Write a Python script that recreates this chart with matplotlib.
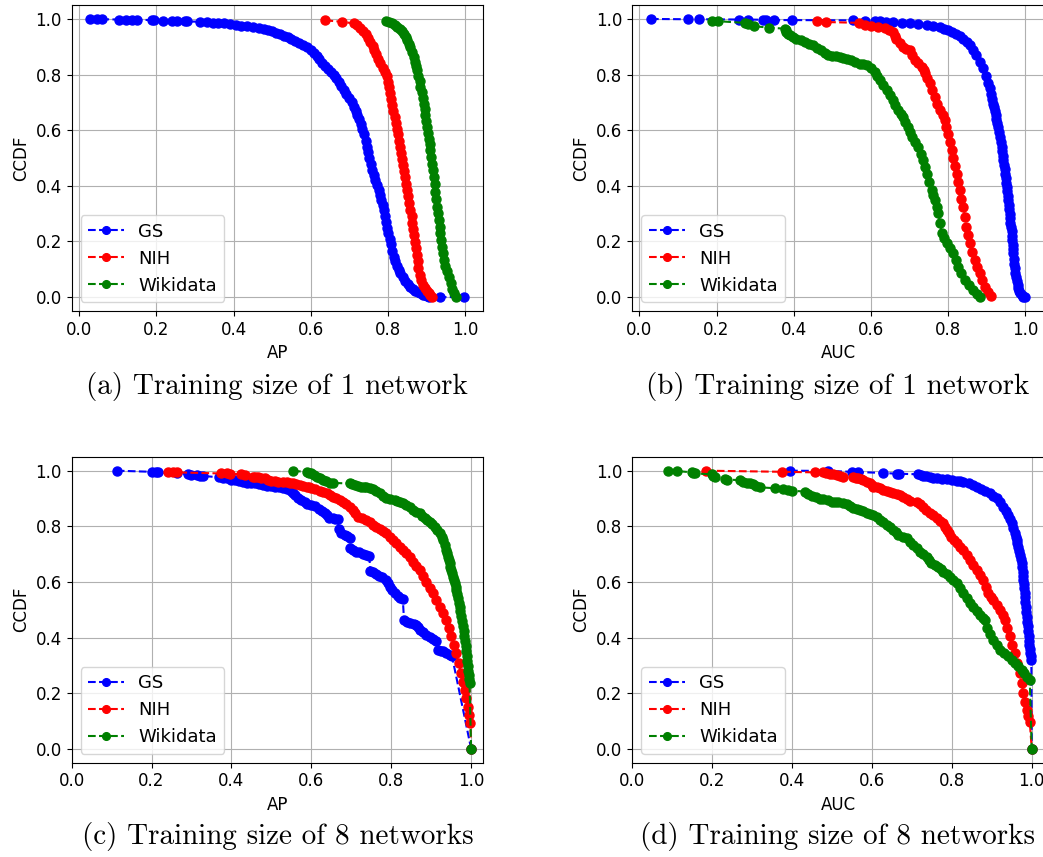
import matplotlib as mpl
mpl.use('Agg')
import matplotlib.pyplot as plt

# CCDF curves, (score, ccdf) pairs for each dataset

# (a) AP, training size 1
ap1_gs = [(0.029,1.0),(0.046,0.999),(0.059,0.999),(0.102,0.998),(0.122,0.998),(0.137,0.997),(0.150,0.997),
          (0.188,0.996),(0.194,0.995),(0.216,0.994),(0.240,0.993),(0.253,0.993),(0.275,0.992),(0.279,0.991),
          (0.314,0.990),(0.331,0.989),(0.348,0.987),(0.36,0.986),(0.375,0.984),(0.39,0.981),(0.405,0.978),
          (0.42,0.976),(0.435,0.974),(0.45,0.971),(0.465,0.968),(0.478,0.965),(0.49,0.961),(0.50,0.956),
          (0.51,0.951),(0.52,0.946),(0.53,0.940),(0.54,0.934),(0.55,0.928),(0.56,0.921),(0.57,0.915),
          (0.58,0.907),(0.59,0.898),(0.60,0.887),(0.608,0.876),(0.615,0.866),(0.622,0.855),(0.63,0.843),
          (0.638,0.831),(0.645,0.820),(0.652,0.810),(0.66,0.800),(0.666,0.787),(0.672,0.775),(0.678,0.760),
          (0.685,0.744),(0.692,0.730),(0.70,0.715),(0.706,0.700),(0.711,0.684),(0.716,0.668),(0.72,0.655),
          (0.725,0.640),(0.729,0.624),(0.733,0.605),(0.738,0.585),(0.742,0.563),(0.746,0.540),(0.749,0.520),
          (0.752,0.500),(0.756,0.478),(0.759,0.456),(0.763,0.438),(0.767,0.420),(0.772,0.402),(0.776,0.384),
          (0.78,0.367),(0.783,0.350),(0.786,0.332),(0.789,0.313),(0.792,0.292),(0.795,0.270),(0.798,0.250),
          (0.80,0.229),(0.804,0.210),(0.807,0.190),(0.811,0.167),(0.815,0.145),(0.819,0.128),(0.823,0.112),
          (0.828,0.098),(0.832,0.085),(0.838,0.071),(0.845,0.058),(0.851,0.047),(0.858,0.037),(0.864,0.029),
          (0.87,0.022),(0.877,0.017),(0.884,0.013),(0.89,0.009),(0.895,0.006),(0.90,0.003),(0.906,0.001),
          (0.936,0.0),(0.998,0.0)]
ap1_nih = [(0.638,0.995),(0.68,0.990),(0.711,0.984),(0.72,0.978),(0.728,0.968),(0.735,0.958),(0.742,0.945),
           (0.748,0.932),(0.754,0.918),(0.76,0.903),(0.765,0.888),(0.77,0.873),(0.775,0.857),(0.78,0.840),
           (0.786,0.822),(0.792,0.81),(0.797,0.795),(0.80,0.775),(0.803,0.755),(0.806,0.735),(0.808,0.712),
           (0.811,0.69),(0.814,0.668),(0.817,0.648),(0.82,0.627),(0.823,0.606),(0.826,0.585),(0.828,0.563),
           (0.831,0.540),(0.834,0.518),(0.837,0.497),(0.84,0.476),(0.842,0.455),(0.845,0.432),(0.847,0.408),
           (0.85,0.385),(0.852,0.362),(0.855,0.338),(0.858,0.313),(0.861,0.29),(0.863,0.268),(0.866,0.245),
           (0.868,0.222),(0.87,0.199),(0.872,0.176),(0.875,0.152),(0.877,0.128),(0.879,0.104),(0.882,0.08),
           (0.886,0.06),(0.89,0.045),(0.895,0.033),(0.90,0.022),(0.905,0.013),(0.91,0.006),(0.915,0.0)]
ap1_wiki = [(0.796,0.994),(0.803,0.99),(0.811,0.986),(0.818,0.978),(0.824,0.971),(0.83,0.963),(0.836,0.955),
            (0.841,0.947),(0.846,0.935),(0.85,0.923),(0.854,0.911),(0.858,0.898),(0.862,0.882),(0.867,0.863),
            (0.87,0.847),(0.873,0.832),(0.876,0.816),(0.879,0.796),(0.882,0.776),(0.884,0.756),(0.887,0.736),
            (0.89,0.716),(0.893,0.696),(0.895,0.675),(0.897,0.654),(0.899,0.633),(0.901,0.612),(0.903,0.591),
            (0.906,0.57),(0.908,0.549),(0.91,0.528),(0.912,0.504),(0.914,0.48),(0.917,0.456),(0.919,0.432),
            (0.921,0.405),(0.923,0.378),(0.925,0.352),(0.927,0.325),(0.929,0.301),(0.932,0.277),(0.934,0.253),
            (0.936,0.229),(0.938,0.205),(0.941,0.181),(0.943,0.157),(0.945,0.133),(0.949,0.113),(0.953,0.093),
            (0.958,0.073),(0.962,0.049),(0.966,0.028),(0.97,0.013),(0.975,0.0)]

# (b) AUC, training size 1
auc1_gs = [(0.03,1.0),(0.127,0.999),(0.154,0.999),(0.257,0.998),(0.281,0.998),(0.32,0.997),(0.329,0.997),
           (0.348,0.996),(0.396,0.996),(0.554,0.995),(0.584,0.994),(0.61,0.993),(0.623,0.991),(0.64,0.989),
           (0.658,0.988),(0.68,0.986),(0.701,0.984),(0.722,0.981),(0.745,0.978),(0.762,0.974),(0.779,0.970),
           (0.79,0.965),(0.80,0.960),(0.811,0.953),(0.822,0.945),(0.831,0.937),(0.84,0.929),(0.849,0.918),
           (0.857,0.905),(0.865,0.888),(0.874,0.870),(0.883,0.846),(0.892,0.822),(0.898,0.796),(0.905,0.768),
           (0.908,0.75),(0.911,0.732),(0.915,0.714),(0.918,0.696),(0.920,0.682),(0.922,0.668),(0.924,0.654),
           (0.926,0.640),(0.928,0.626),(0.931,0.612),(0.933,0.594),(0.935,0.576),(0.937,0.558),(0.939,0.540),
           (0.941,0.524),(0.942,0.508),(0.944,0.492),(0.945,0.476),(0.947,0.46),(0.948,0.444),(0.95,0.428),
           (0.951,0.412),(0.953,0.396),(0.954,0.38),(0.956,0.364),(0.957,0.348),(0.958,0.332),(0.959,0.316),
           (0.96,0.3),(0.961,0.284),(0.962,0.268),(0.963,0.253),(0.965,0.237),(0.966,0.221),(0.967,0.205),
           (0.968,0.189),(0.969,0.173),(0.970,0.157),(0.971,0.138),(0.972,0.12),(0.973,0.104),(0.974,0.088),
           (0.976,0.072),(0.978,0.058),(0.981,0.044),(0.983,0.032),(0.985,0.022),(0.987,0.015),(0.991,0.007),
           (0.995,0.002),(1.0,0.0)]
auc1_nih = [(0.461,0.994),(0.483,0.989),(0.57,0.986),(0.585,0.977),(0.60,0.975),(0.619,0.971),(0.636,0.966),
            (0.648,0.96),(0.658,0.952),(0.662,0.94),(0.665,0.929),(0.675,0.915),(0.684,0.900),(0.692,0.893),
            (0.701,0.887),(0.708,0.87),(0.714,0.852),(0.722,0.84),(0.732,0.828),(0.737,0.816),(0.74,0.804),
            (0.747,0.786),(0.753,0.768),(0.76,0.744),(0.766,0.720),(0.773,0.696),(0.779,0.672),(0.786,0.654),
            (0.792,0.636),(0.796,0.612),(0.80,0.588),(0.805,0.558),(0.81,0.528),(0.814,0.500),(0.818,0.472),
            (0.823,0.444),(0.827,0.414),(0.831,0.384),(0.835,0.354),(0.84,0.325),(0.844,0.289),(0.848,0.253),
            (0.852,0.223),(0.857,0.193),(0.863,0.163),(0.87,0.133),(0.876,0.109),(0.883,0.085),(0.889,0.061),
            (0.896,0.037),(0.904,0.02),(0.913,0.004)]
auc1_wiki = [(0.189,0.994),(0.203,0.992),(0.273,0.986),(0.281,0.981),(0.297,0.974),(0.335,0.969),(0.377,0.965),
             (0.379,0.959),(0.381,0.953),(0.385,0.947),(0.39,0.941),(0.398,0.935),(0.407,0.929),(0.418,0.923),
             (0.429,0.917),(0.44,0.911),(0.45,0.905),(0.461,0.896),(0.472,0.887),(0.48,0.878),(0.489,0.869),
             (0.50,0.868),(0.511,0.866),(0.52,0.864),(0.528,0.861),(0.539,0.856),(0.55,0.851),(0.56,0.845),
             (0.571,0.839),(0.58,0.837),(0.589,0.834),(0.60,0.822),(0.61,0.81),(0.617,0.795),(0.623,0.78),
             (0.632,0.762),(0.641,0.744),(0.65,0.726),(0.658,0.708),(0.664,0.69),(0.671,0.672),(0.678,0.66),
             (0.684,0.648),(0.69,0.630),(0.697,0.612),(0.702,0.594),(0.706,0.576),(0.714,0.558),(0.723,0.54),
             (0.73,0.516),(0.736,0.492),(0.741,0.468),(0.745,0.444),(0.751,0.414),(0.758,0.384),(0.762,0.366),
             (0.766,0.348),(0.771,0.325),(0.775,0.301),(0.78,0.265),(0.784,0.229),(0.79,0.211),(0.797,0.193),
             (0.806,0.175),(0.814,0.157),(0.82,0.133),(0.827,0.109),(0.835,0.085),(0.844,0.061),(0.855,0.043),
             (0.866,0.025),(0.875,0.012),(0.883,0.0)]

# (c) AP, training size 8
ap8_gs = [(0.113,1.0),(0.2,0.996),(0.21,0.995),(0.217,0.994),(0.263,0.990),(0.29,0.988),(0.30,0.986),
          (0.313,0.983),(0.322,0.982),(0.329,0.981),(0.37,0.976),(0.38,0.974),(0.39,0.972),(0.40,0.968),
          (0.41,0.965),(0.42,0.962),(0.43,0.959),(0.44,0.957),(0.45,0.955),(0.46,0.954),(0.47,0.952),
          (0.48,0.949),(0.49,0.946),(0.50,0.944),(0.51,0.942),(0.52,0.940),(0.53,0.937),(0.54,0.933),
          (0.548,0.928),(0.554,0.919),(0.56,0.911),(0.567,0.903),(0.575,0.895),(0.583,0.888),(0.59,0.882),
          (0.60,0.877),(0.61,0.872),(0.618,0.863),(0.626,0.856),(0.634,0.849),(0.64,0.84),(0.643,0.831),
          (0.654,0.830),(0.66,0.828),(0.667,0.826),(0.668,0.790),(0.675,0.776),(0.684,0.769),(0.69,0.764),
          (0.696,0.758),(0.698,0.721),(0.705,0.714),(0.712,0.709),(0.72,0.706),(0.73,0.702),(0.738,0.698),
          (0.745,0.692),(0.748,0.638),(0.755,0.634),(0.762,0.629),(0.77,0.622),(0.778,0.616),(0.788,0.607),
          (0.792,0.595),(0.796,0.583),(0.803,0.571),(0.809,0.559),(0.817,0.548),(0.823,0.543),(0.829,0.538),
          (0.832,0.462),(0.84,0.455),(0.848,0.451),(0.856,0.449),(0.863,0.446),(0.867,0.437),(0.871,0.428),
          (0.88,0.419),(0.888,0.41),(0.896,0.402),(0.905,0.394),(0.912,0.386),(0.917,0.357),(0.924,0.353),
          (0.93,0.35),(0.938,0.344),(0.946,0.339),(0.952,0.334),(1.0,0.0)]
ap8_nih = [(0.242,0.996),(0.254,0.995),(0.263,0.994),(0.375,0.990),(0.39,0.990),(0.396,0.989),(0.425,0.987),
           (0.433,0.984),(0.454,0.979),(0.46,0.977),(0.467,0.976),(0.475,0.974),(0.484,0.972),(0.492,0.968),
           (0.50,0.964),(0.508,0.962),(0.517,0.96),(0.528,0.959),(0.538,0.958),(0.546,0.957),(0.554,0.955),
           (0.562,0.952),(0.571,0.949),(0.58,0.946),(0.588,0.943),(0.594,0.940),(0.60,0.937),(0.61,0.933),
           (0.621,0.928),(0.63,0.924),(0.638,0.919),(0.646,0.913),(0.654,0.907),(0.662,0.901),(0.671,0.895),
           (0.68,0.888),(0.688,0.88),(0.696,0.87),(0.704,0.859),(0.71,0.847),(0.717,0.835),(0.727,0.829),
           (0.738,0.823),(0.746,0.814),(0.754,0.805),(0.762,0.797),(0.771,0.789),(0.78,0.782),(0.788,0.775),
           (0.796,0.763),(0.804,0.751),(0.812,0.739),(0.821,0.727),(0.83,0.715),(0.838,0.703),(0.846,0.688),
           (0.854,0.673),(0.862,0.658),(0.871,0.643),(0.88,0.622),(0.888,0.601),(0.896,0.58),(0.905,0.559),
           (0.913,0.535),(0.921,0.511),(0.93,0.487),(0.938,0.463),(0.944,0.434),(0.95,0.404),(0.956,0.374),
           (0.963,0.344),(0.969,0.308),(0.975,0.272),(0.98,0.242),(0.984,0.212),(0.988,0.182),(0.992,0.152),
           (0.995,0.122),(0.998,0.092),(1.0,0.0)]
ap8_wiki = [(0.554,0.999),(0.588,0.996),(0.595,0.993),(0.60,0.99),(0.607,0.984),(0.613,0.978),(0.621,0.972),
            (0.629,0.966),(0.637,0.962),(0.646,0.957),(0.654,0.956),(0.696,0.954),(0.702,0.951),(0.709,0.948),
            (0.717,0.946),(0.725,0.943),(0.731,0.942),(0.738,0.94),(0.746,0.937),(0.754,0.933),(0.762,0.926),
            (0.771,0.919),(0.779,0.91),(0.788,0.901),(0.798,0.898),(0.809,0.895),(0.815,0.892),(0.821,0.889),
            (0.83,0.883),(0.838,0.877),(0.846,0.868),(0.854,0.859),(0.862,0.853),(0.871,0.847),(0.878,0.838),
            (0.884,0.829),(0.89,0.823),(0.896,0.817),(0.903,0.808),(0.909,0.799),(0.915,0.787),(0.921,0.775),
            (0.926,0.763),(0.93,0.751),(0.934,0.733),(0.938,0.715),(0.94,0.703),(0.942,0.691),(0.944,0.679),
            (0.946,0.667),(0.948,0.655),(0.95,0.643),(0.952,0.631),(0.955,0.619),(0.957,0.607),(0.959,0.595),
            (0.961,0.583),(0.963,0.571),(0.965,0.556),(0.967,0.541),(0.969,0.526),(0.971,0.511),(0.973,0.494),
            (0.975,0.476),(0.977,0.458),(0.98,0.44),(0.981,0.422),(0.983,0.404),(0.984,0.386),(0.986,0.368),
            (0.987,0.35),(0.989,0.332),(0.99,0.314),(0.992,0.296),(0.993,0.281),(0.994,0.266),(0.995,0.251),
            (0.996,0.236),(1.0,0.0)]

# (d) AUC, training size 8
auc8_gs = [(0.395,1.0),(0.491,0.999),(0.549,0.996),(0.566,0.995),(0.628,0.992),(0.662,0.989),(0.668,0.989),
           (0.716,0.987),(0.722,0.985),(0.728,0.982),(0.736,0.98),(0.745,0.978),(0.753,0.975),(0.762,0.972),
           (0.775,0.97),(0.787,0.969),(0.8,0.966),(0.812,0.964),(0.82,0.962),(0.829,0.96),(0.842,0.955),
           (0.854,0.949),(0.864,0.941),(0.874,0.933),(0.884,0.926),(0.895,0.919),(0.904,0.91),(0.912,0.901),
           (0.921,0.886),(0.929,0.871),(0.935,0.856),(0.941,0.841),(0.946,0.826),(0.95,0.811),(0.954,0.793),
           (0.958,0.775),(0.96,0.763),(0.962,0.751),(0.964,0.739),(0.966,0.727),(0.968,0.712),(0.971,0.697),
           (0.973,0.682),(0.975,0.667),(0.976,0.652),(0.977,0.637),(0.978,0.622),(0.979,0.607),(0.98,0.592),
           (0.981,0.577),(0.982,0.562),(0.983,0.547),(0.984,0.529),(0.985,0.511),(0.986,0.493),(0.987,0.475),
           (0.988,0.457),(0.99,0.44),(0.991,0.422),(0.992,0.404),(0.993,0.389),(0.994,0.374),(0.995,0.359),
           (0.996,0.344),(0.998,0.332),(0.999,0.32),(1.0,0.0)]
auc8_nih = [(0.184,1.0),(0.375,0.996),(0.457,0.994),(0.478,0.994),(0.486,0.99),(0.495,0.989),(0.503,0.987),
            (0.512,0.984),(0.52,0.981),(0.528,0.978),(0.553,0.976),(0.56,0.974),(0.566,0.972),(0.572,0.969),
            (0.578,0.966),(0.587,0.961),(0.595,0.955),(0.60,0.949),(0.603,0.943),(0.612,0.94),(0.62,0.937),
            (0.628,0.932),(0.637,0.928),(0.645,0.924),(0.653,0.919),(0.662,0.916),(0.67,0.913),(0.678,0.905),
            (0.687,0.897),(0.695,0.891),(0.712,0.889),(0.72,0.88),(0.728,0.871),(0.736,0.86),(0.745,0.849),
            (0.753,0.839),(0.762,0.829),(0.77,0.82),(0.778,0.811),(0.783,0.799),(0.787,0.787),(0.793,0.775),
            (0.799,0.763),(0.806,0.751),(0.812,0.739),(0.82,0.727),(0.829,0.715),(0.837,0.697),(0.845,0.679),
            (0.853,0.661),(0.862,0.643),(0.87,0.625),(0.879,0.607),(0.885,0.583),(0.891,0.559),(0.897,0.547),
            (0.904,0.535),(0.912,0.517),(0.92,0.499),(0.927,0.481),(0.933,0.463),(0.939,0.434),(0.945,0.404),
            (0.951,0.374),(0.958,0.344),(0.964,0.308),(0.97,0.272),(0.975,0.236),(0.979,0.2),(0.983,0.17),
            (0.987,0.14),(0.991,0.119),(0.995,0.098),(1.0,0.0)]
auc8_wiki = [(0.09,1.0),(0.111,0.999),(0.149,0.994),(0.153,0.992),(0.157,0.99),(0.199,0.987),(0.203,0.982),
             (0.207,0.978),(0.232,0.97),(0.237,0.968),(0.27,0.966),(0.278,0.961),(0.286,0.957),(0.295,0.954),
             (0.303,0.951),(0.31,0.946),(0.32,0.94),(0.357,0.937),(0.378,0.934),(0.389,0.931),(0.399,0.928),
             (0.432,0.925),(0.44,0.915),(0.45,0.91),(0.461,0.904),(0.47,0.9),(0.478,0.897),(0.49,0.893),
             (0.499,0.889),(0.508,0.889),(0.516,0.889),(0.527,0.884),(0.537,0.88),(0.545,0.872),(0.553,0.865),
             (0.562,0.862),(0.57,0.859),(0.578,0.854),(0.587,0.849),(0.595,0.845),(0.603,0.841),(0.612,0.832),
             (0.62,0.823),(0.628,0.814),(0.637,0.805),(0.645,0.796),(0.653,0.787),(0.66,0.778),(0.666,0.769),
             (0.677,0.763),(0.687,0.757),(0.695,0.745),(0.703,0.733),(0.712,0.721),(0.72,0.709),(0.728,0.7),
             (0.737,0.691),(0.743,0.679),(0.749,0.667),(0.757,0.661),(0.766,0.655),(0.772,0.646),(0.778,0.637),
             (0.787,0.628),(0.795,0.619),(0.803,0.607),(0.812,0.595),(0.82,0.577),(0.829,0.559),(0.837,0.541),
             (0.845,0.523),(0.853,0.509),(0.862,0.495),(0.87,0.481),(0.877,0.472),(0.883,0.463),(0.887,0.434),
             (0.895,0.413),(0.904,0.392),(0.912,0.374),(0.92,0.356),(0.93,0.344),(0.941,0.332),(0.95,0.32),
             (0.958,0.308),(0.966,0.296),(0.975,0.284),(0.981,0.272),(0.987,0.26),(0.995,0.248),(1.0,0.0)]

names = ['GS', 'NIH', 'Wikidata']
colors = ['blue', 'red', 'green']
captions = ['(a) Training size of 1 network', '(b) Training size of 1 network',
            '(c) Training size of 8 networks', '(d) Training size of 8 networks']

fig = plt.figure(figsize=(10.43, 8.57), dpi=100)

w, h = 0.3945, 0.357
panels = [
    ([0.0687, 0.6371, w, h], 'AP',  [ap1_gs, ap1_nih, ap1_wiki], None),
    ([0.6062, 0.6371, w, h], 'AUC', [auc1_gs, auc1_nih, auc1_wiki], None),
    ([0.0687, 0.1100, w, h], 'AP',  [ap8_gs, ap8_nih, ap8_wiki], (0, 1.03)),
    ([0.6062, 0.1100, w, h], 'AUC', [auc8_gs, auc8_nih, auc8_wiki], (0, 1.03)),
]

cap_y = [0.549, 0.549, 0.0235, 0.0235]

for i, (rect, xlab, curves, xlim) in enumerate(panels):
    ax = fig.add_axes(rect)
    for pts, name, c in zip(curves, names, colors):
        xs = [p[0] for p in pts]
        ys = [p[1] for p in pts]
        ax.plot(xs, ys, 'o--', color=c, label=name, markersize=6.5)
    if xlim is not None:
        ax.set_xlim(*xlim)
    ax.set_xticks([0.0, 0.2, 0.4, 0.6, 0.8, 1.0])
    ax.set_yticks([0.0, 0.2, 0.4, 0.6, 0.8, 1.0])
    ax.tick_params(labelsize=12)
    ax.set_xlabel(xlab, fontsize=12)
    ax.set_ylabel('CCDF', fontsize=12)
    ax.grid(True)
    ax.legend(loc='lower left', fontsize=13, markerscale=0.85)
    # subfigure caption under each panel
    fig.text(rect[0] + rect[2] / 2, cap_y[i], captions[i], family='cmr10',
             fontsize=21, ha='center', va='center')

fig.savefig('out.png', dpi=100)
